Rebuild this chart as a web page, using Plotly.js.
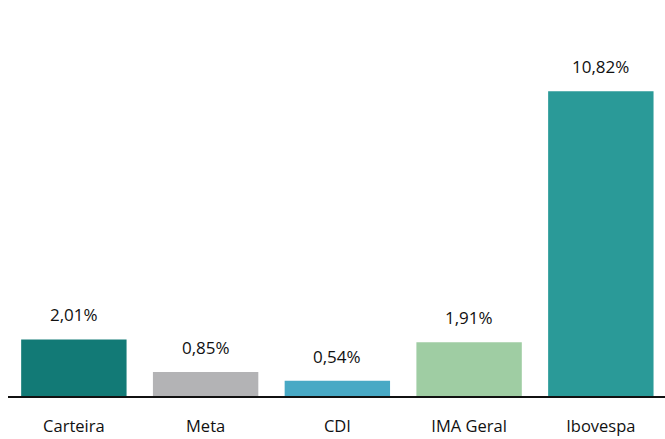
<!DOCTYPE html>
<html><head><meta charset="utf-8">
<script src="https://cdn.plot.ly/plotly-3.0.1.min.js"></script>
<style>html,body{margin:0;padding:0;background:#fff;}#chart{width:665px;height:439px;}</style>
</head><body><div id="chart"></div>
<script>
const categories = ["Carteira", "Meta", "CDI", "IMA Geral", "Ibovespa"];
const values = [2.01, 0.85, 0.54, 1.91, 10.82];
const labels = ["2,01%", "0,85%", "0,54%", "1,91%", "10,82%"];
const colors = ["#127A76", "#B3B3B5", "#48A9C5", "#9FCDA3", "#2A9A98"];

const trace = {
  type: "bar", x: categories, y: values,
  marker: {color: colors, line: {width: 0}},
  hoverinfo: "none"
};
const annotations = categories.map((c, i) => ({
  x: c, y: values[i], text: labels[i], showarrow: false,
  yanchor: "bottom", yshift: 11,
  font: {family: "Open Sans", size: 17, color: "#111"}
}));
const layout = {
  width: 665, height: 439,
  margin: {l: 8, r: 0, t: 58, b: 43},
  paper_bgcolor: "#fff", plot_bgcolor: "#fff",
  bargap: 0.2, showlegend: false,
  font: {family: "Open Sans", size: 17, color: "#111"},
  xaxis: {range: [-0.5, 4.487], showline: true, linecolor: "#111", linewidth: 2,
          ticks: "", showgrid: false, zeroline: false, ticklabelstandoff: 14,
          tickfont: {family: "Open Sans", size: 16.5, color: "#111"}},
  yaxis: {range: [0, 12], visible: false, showgrid: false, zeroline: false},
  annotations: annotations
};
Plotly.newPlot("chart", [trace], layout, {displayModeBar: false, staticPlot: true});
</script></body></html>
